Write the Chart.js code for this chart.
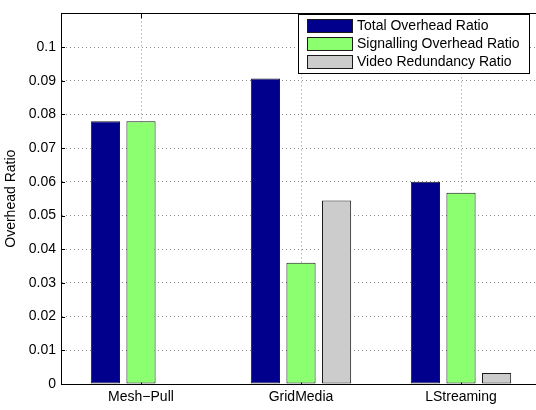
<!DOCTYPE html>
<html>
<head>
<meta charset="utf-8">
<script src="https://cdn.jsdelivr.net/npm/chart.js@4/dist/chart.umd.min.js"></script>
<style>
  html, body { margin: 0; padding: 0; background: #fff; overflow: hidden; }
  canvas { display: block; }
</style>
</head>
<body>
<canvas id="chart" width="541" height="410"></canvas>
<script>
// Overhead ratios of three P2P streaming systems
const categories = ['Mesh\u2212Pull', 'GridMedia', 'LStreaming'];
const seriesNames = ['Total Overhead Ratio', 'Signalling Overhead Ratio', 'Video Redundancy Ratio'];
const totalOverhead = [0.078, 0.0907, 0.060];
const signallingOverhead = [0.078, 0.036, 0.0568];
const videoRedundancy = [0, 0.0545, 0.0033];
const yTickValues = [0, 0.01, 0.02, 0.03, 0.04, 0.05, 0.06, 0.07, 0.08, 0.09, 0.1];
const yTickLabels = ['0', '0.01', '0.02', '0.03', '0.04', '0.05', '0.06', '0.07', '0.08', '0.09', '0.1'];

const FONT = "'Liberation Sans', Arial, Helvetica, sans-serif";
const fillColors = ['#00008C', '#8CFF70', '#CCCCCC'];
const edgeColor = '#1a1a1a';
const textColor = '#000';

// Box around the axes with inward tick marks on all four sides
const axesBox = {
  id: 'axesBox',
  beforeDatasetsDraw(chart) {
    const { ctx, chartArea: a, scales } = chart;
    ctx.save();
    ctx.strokeStyle = '#000';
    ctx.lineWidth = 1;
    ctx.beginPath();
    scales.y.ticks.forEach(t => {
      const y = Math.round(scales.y.getPixelForValue(t.value)) + 0.5;
      ctx.moveTo(a.left, y); ctx.lineTo(a.left + 4, y);
      ctx.moveTo(a.right, y); ctx.lineTo(a.right - 4, y);
    });
    categories.forEach((c, i) => {
      const x = Math.round(scales.x.getPixelForValue(i)) + 0.5;
      ctx.moveTo(x, a.top); ctx.lineTo(x, a.top + 5);
      ctx.moveTo(x, a.bottom); ctx.lineTo(x, a.bottom - 5);
    });
    ctx.stroke();
    ctx.strokeRect(Math.round(a.left) + 0.5, Math.round(a.top) + 0.5,
                   Math.round(a.right - a.left), Math.round(a.bottom - a.top));
    ctx.restore();
  }
};

// Boxed legend in the upper right of the axes
const boxLegend = {
  id: 'boxLegend',
  afterDatasetsDraw(chart) {
    const { ctx } = chart;
    const x0 = 298.5, y0 = 14.5, w = 231, h = 59;
    ctx.save();
    ctx.fillStyle = '#fff';
    ctx.fillRect(x0, y0, w, h);
    ctx.strokeStyle = '#000';
    ctx.lineWidth = 1;
    ctx.strokeRect(x0, y0, w, h);
    ctx.font = '14px ' + FONT;
    ctx.textBaseline = 'middle';
    ctx.textAlign = 'left';
    chart.data.datasets.forEach((ds, i) => {
      const cy = 26 + i * 18;
      ctx.fillStyle = ds.backgroundColor;
      ctx.fillRect(307.5, cy - 6.5, 45, 13);
      ctx.strokeStyle = edgeColor;
      ctx.strokeRect(307.5, cy - 6.5, 45, 13);
      ctx.fillStyle = textColor;
      ctx.fillText(ds.label, 357, cy + 0.5);
    });
    ctx.restore();
  }
};

const seriesValues = [totalOverhead, signallingOverhead, videoRedundancy];

new Chart(document.getElementById('chart'), {
  type: 'bar',
  data: {
    labels: categories,
    datasets: seriesNames.map((name, i) => ({
      label: name,
      data: seriesValues[i],
      backgroundColor: fillColors[i],
      borderColor: edgeColor,
      borderWidth: 1,
      borderSkipped: false,
      categoryPercentage: 0.667,
      barPercentage: 0.82
    }))
  },
  options: {
    responsive: false,
    animation: false,
    devicePixelRatio: 1,
    layout: { padding: { left: 0, top: 7, right: 0, bottom: 0 } },
    plugins: {
      legend: { display: false },
      tooltip: { enabled: false }
    },
    scales: {
      x: {
        offset: true,
        grid: {
          offset: false,
          drawTicks: false,
          color: 'rgba(0,0,0,0.45)',
          lineWidth: 1
        },
        border: { display: true, color: '#000', width: 1, dash: [1, 3] },
        ticks: {
          padding: 5,
          color: textColor,
          font: { family: FONT, size: 14 }
        },
        afterFit(scale) { scale.height = 26; }
      },
      y: {
        min: 0,
        max: 0.11,
        afterBuildTicks(scale) {
          scale.ticks = yTickValues.map(v => ({ value: v }));
        },
        grid: {
          drawTicks: false,
          color: 'rgba(0,0,0,0.45)',
          lineWidth: 1
        },
        border: { display: true, color: '#000', width: 1, dash: [1, 3] },
        ticks: {
          padding: 5,
          color: textColor,
          font: { family: FONT, size: 14 },
          callback: (v, i) => yTickLabels[i]
        },
        title: {
          display: true,
          text: 'Overhead Ratio',
          color: textColor,
          font: { family: FONT, size: 14 },
          padding: { top: 3, bottom: 0 }
        },
        afterFit(scale) { scale.width = 61; }
      }
    }
  },
  plugins: [axesBox, boxLegend]
});
</script>
</body>
</html>
